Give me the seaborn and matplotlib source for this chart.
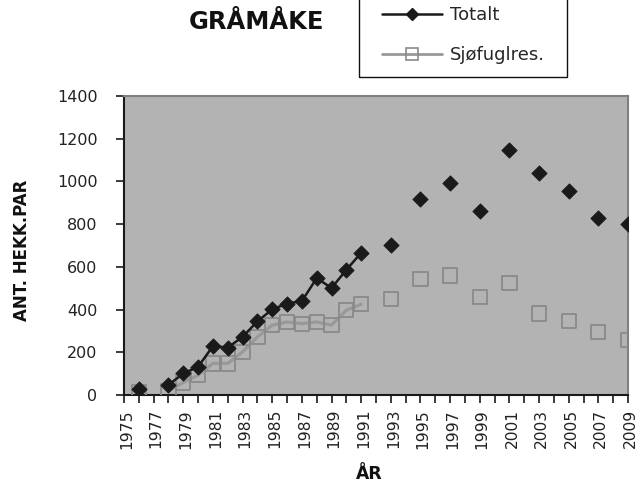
import matplotlib
matplotlib.use("Agg")
import matplotlib.pyplot as plt
import seaborn as sns
import pandas as pd
from matplotlib.patches import Rectangle
from matplotlib.lines import Line2D
import matplotlib.transforms as mtransforms

# ---- data ----
years = [1976, 1978, 1979, 1980, 1981, 1982, 1983, 1984, 1985, 1986, 1987, 1988,
         1989, 1990, 1991, 1993, 1995, 1997, 1999, 2001, 2003, 2005, 2007, 2009]
totalt = [26, 47, 101, 132, 229, 222, 272, 345, 401, 428, 440, 547,
          501, 586, 666, 700, 918, 994, 861, 1147, 1041, 957, 827, 800]
sjofugl = [15, 20, 59, 93, 148, 148, 202, 272, 327, 342, 334, 342,
           327, 397, 425, 451, 542, 559, 460, 523, 382, 346, 296, 257]
all_years = list(range(1975, 2010))
tick_labels = [str(y) if y % 2 else "" for y in all_years]
y_ticks = [0, 200, 400, 600, 800, 1000, 1200, 1400]
series_names = ["Totalt", "Sjøfuglres."]

df = pd.DataFrame({"År": years, "Totalt": totalt, "Sjøfuglres.": sjofugl})
# consecutive years (line drawn only where the years are continuous)
seg = df[(df["År"] >= 1978) & (df["År"] <= 1991)]

sns.set_style("ticks")
plt.rcParams["font.family"] = ["DejaVu Sans"]

W, H = 639, 490
fig = plt.figure(figsize=(W / 100, H / 100), dpi=100)
fig.patch.set_facecolor("white")
ax = fig.add_axes([124 / W, 1 - 395 / H, (628 - 124) / W, (395 - 96) / H])
ax.set_facecolor("#b3b3b3")

gray_line = "#999999"
gray_edge = "#8a8a8a"
black = "#1a1a1a"

sns.lineplot(data=seg, x="År", y="Sjøfuglres.", color=gray_line, linewidth=2.3,
             ax=ax, zorder=2)
sns.scatterplot(data=df, x="År", y="Sjøfuglres.", marker="s", s=105,
                facecolor="none", edgecolor=gray_edge, linewidth=1.3, ax=ax, zorder=3)
sns.lineplot(data=seg, x="År", y="Totalt", color=black, linewidth=1.8, ax=ax, zorder=4)
sns.scatterplot(data=df, x="År", y="Totalt", marker="D", s=62, color=black,
                edgecolor=black, linewidth=0.5, ax=ax, zorder=5)

ax.set_xlim(1975, 2009)
ax.set_ylim(0, 1400)
ax.set_xticks(all_years)
ax.set_xticklabels(tick_labels)
ax.set_yticks(y_ticks)
ax.set_yticklabels([str(v) for v in y_ticks])
ax.set_xlabel("")
ax.set_ylabel("")

ax.tick_params(axis="x", direction="out", length=6, width=1.2, color=black,
               labelrotation=90, labelsize=11.2, pad=4, labelcolor="#222222")
ax.tick_params(axis="y", direction="out", length=6, width=1.2, color=black,
               labelsize=11.5, pad=13, labelcolor="#222222")
# nudge x labels slightly right, like the reference
offset = mtransforms.ScaledTranslation(2.5 / 100, 0, fig.dpi_scale_trans)
for lab in ax.get_xticklabels():
    lab.set_transform(lab.get_transform() + offset)

for s in ["left", "bottom"]:
    ax.spines[s].set_color(black)
    ax.spines[s].set_linewidth(1.5)
for s in ["top", "right"]:
    ax.spines[s].set_visible(True)
    ax.spines[s].set_color("#808080")
    ax.spines[s].set_linewidth(1.5)

# titles
fig.text(257 / W, 1 - 22 / H, "GRÅMÅKE", fontsize=17.5, fontweight="bold",
         ha="center", va="center", color="#111111")
fig.text(22 / W, 1 - 250 / H, "ANT. HEKK.PAR", fontsize=12, fontweight="bold",
         rotation=90, ha="center", va="center", color="#111111")
fig.text(369 / W, 1 - 474 / H, "ÅR", fontsize=12.5, fontweight="bold",
         ha="center", va="center", color="#111111")

# legend frame (its top runs off the figure, as in the reference)
fig.patches.append(Rectangle((359 / W, 1 - 77 / H), (567 - 359) / W, 0.3,
                             transform=fig.transFigure, fill=False,
                             edgecolor="#111111", linewidth=1.0))
handles = [
    Line2D([], [], color=black, linewidth=1.8, marker="D", markersize=6.5,
           markerfacecolor=black, markeredgecolor=black),
    Line2D([], [], color=gray_line, linewidth=2.0, marker="s", markersize=9,
           markerfacecolor="none", markeredgecolor=gray_edge, markeredgewidth=1.2),
]
fig.legend(handles, series_names, loc="center left",
           bbox_to_anchor=(382 / W, 1 - 35 / H), frameon=False, fontsize=13,
           borderpad=0, borderaxespad=0, handlelength=3.3, handletextpad=0.45,
           labelspacing=1.2)

fig.savefig("out.png", dpi=100)
